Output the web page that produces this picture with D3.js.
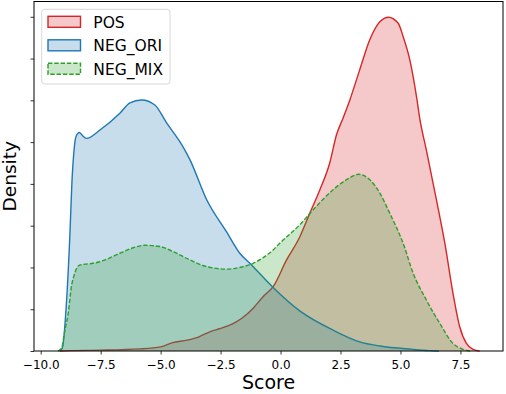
<!DOCTYPE html>
<html lang="en">
<head>
<meta charset="utf-8">
<title>Score density</title>
<script src="https://cdn.jsdelivr.net/npm/d3@7"></script>
<style>
  html, body { margin: 0; padding: 0; background: #fff; }
  svg { display: block; font-family: "DejaVu Sans", sans-serif; }
</style>
</head>
<body>
<script>
// series names, in drawing order
const seriesNames = ["POS", "NEG_ORI", "NEG_MIX"];

// KDE curves: [score, density]
const posCurve = [
  [-9.2, 0], [-8.8, 0.0001], [-7.5, 0.0002], [-5.9, 0.0005], [-5.0, 0.0010],
  [-4.5, 0.0020], [-3.9, 0.0026], [-3.4, 0.0034], [-2.95, 0.0046], [-2.5, 0.0054],
  [-2.0, 0.0065], [-1.6, 0.0079], [-1.15, 0.0102], [-0.73, 0.0130], [-0.31, 0.0154],
  [0.25, 0.0218], [0.8, 0.0273], [1.22, 0.0330], [1.64, 0.0386], [2.05, 0.0450],
  [2.33, 0.0517], [2.61, 0.0558], [2.89, 0.0601], [3.3, 0.0673], [3.72, 0.0745],
  [4.14, 0.0788], [4.5, 0.0799], [4.9, 0.0785], [5.11, 0.0753], [5.39, 0.0697],
  [5.69, 0.0601], [5.8, 0.0558], [6.08, 0.0481], [6.5, 0.0362], [6.85, 0.0258],
  [7.19, 0.0138], [7.47, 0.0058], [7.75, 0.0018], [8.03, 0.0004], [8.3, 0]
];

const negOriCurve = [
  [-9.2, 0], [-9.1, 0.0007], [-8.92, 0.0122], [-8.78, 0.0283], [-8.7, 0.0402],
  [-8.61, 0.0481], [-8.53, 0.0513], [-8.39, 0.0523], [-8.28, 0.0517], [-8.09, 0.0509],
  [-7.53, 0.0529], [-6.7, 0.0569], [-6.28, 0.0594], [-5.79, 0.0601], [-5.24, 0.0589],
  [-4.75, 0.0546], [-4.2, 0.0501], [-3.99, 0.0481], [-3.78, 0.0458], [-3.08, 0.0362],
  [-2.25, 0.0285], [-1.7, 0.0234], [-1.21, 0.0206], [-0.31, 0.0152], [0.8, 0.0096],
  [2.19, 0.0050], [3.3, 0.0022], [4.14, 0.0012], [5.51, 0.0004], [6.2, 0.0001], [6.6, 0]
];

const negMixCurve = [
  [-9.28, 0], [-9.13, 0.0007], [-8.99, 0.0050], [-8.85, 0.0091], [-8.71, 0.0158],
  [-8.64, 0.0175], [-8.5, 0.0198], [-8.36, 0.0206], [-8.11, 0.0208], [-7.81, 0.0210],
  [-7.32, 0.0218], [-6.7, 0.0234], [-6.2, 0.0246], [-5.65, 0.0253], [-5.03, 0.0250],
  [-4.48, 0.0238], [-3.78, 0.0218], [-3.08, 0.0202], [-2.25, 0.0196], [-1.7, 0.0200],
  [-1.14, 0.0210], [-0.31, 0.0242], [-0.03, 0.0258], [0.8, 0.0302], [1.36, 0.0338],
  [2.19, 0.0386], [2.75, 0.0410], [3.26, 0.0423], [3.72, 0.0410], [4.14, 0.0378],
  [4.55, 0.0330], [5.11, 0.0258], [5.53, 0.0186], [6.08, 0.0122], [6.64, 0.0066],
  [7.19, 0.0018], [7.61, 0.0004], [7.9, 0]
];

const xTicks = [-10, -7.5, -5, -2.5, 0, 2.5, 5, 7.5];
const yTicks = [0, 0.01, 0.02, 0.03, 0.04, 0.05, 0.06, 0.07, 0.08];

const curves = [posCurve, negOriCurve, negMixCurve];
const colors = ["#d62728", "#1f77b4", "#2ca02c"];
const dashes = [null, null, "4.4,1.9"];

const w = 506, h = 394;
const margin = {left: 34, right: 3, top: 1.5, bottom: 43};

const svg = d3.select("body").append("svg")
  .attr("width", w)
  .attr("height", h);

const x = d3.scaleLinear([-10.28, 9.275], [margin.left, w - margin.right]);
const y = d3.scaleLinear([0, 0.08366], [h - margin.bottom, margin.top]);

const area = d3.area()
  .x(d => x(d[0]))
  .y0(y(0))
  .y1(d => y(d[1]))
  .curve(d3.curveMonotoneX);

const line = d3.line()
  .x(d => x(d[0]))
  .y(d => y(d[1]))
  .curve(d3.curveMonotoneX);

const plot = svg.append("g");

curves.forEach((c, i) => {
  plot.append("path")
    .attr("d", area(c))
    .attr("fill", colors[i])
    .attr("fill-opacity", 0.25);
  plot.append("path")
    .attr("d", line(c))
    .attr("fill", "none")
    .attr("stroke", colors[i])
    .attr("stroke-width", 1.4)
    .attr("stroke-dasharray", dashes[i]);
});

// axes
const xAxis = svg.append("g")
  .attr("transform", `translate(0,${h - margin.bottom})`)
  .call(d3.axisBottom(x).tickValues(xTicks).tickFormat(d3.format(".1f")).tickSizeOuter(0).tickSize(3.5));
xAxis.selectAll("text").attr("font-size", 12).attr("font-family", "DejaVu Sans").attr("fill", "#000").attr("dy", "0.95em");
xAxis.selectAll("line").attr("stroke", "#000").attr("stroke-width", 0.8);
xAxis.select(".domain").remove();

const yAxis = svg.append("g")
  .attr("transform", `translate(${margin.left},0)`)
  .call(d3.axisLeft(y).tickValues(yTicks).tickFormat("").tickSizeOuter(0).tickSize(3.5));
yAxis.selectAll("line").attr("stroke", "#000").attr("stroke-width", 0.8);
yAxis.select(".domain").remove();

// frame
svg.append("rect")
  .attr("x", margin.left)
  .attr("y", margin.top)
  .attr("width", w - margin.left - margin.right)
  .attr("height", h - margin.top - margin.bottom)
  .attr("fill", "none")
  .attr("stroke", "#000")
  .attr("stroke-width", 1);

svg.append("text")
  .attr("x", (margin.left + w - margin.right) / 2)
  .attr("y", 389)
  .attr("text-anchor", "middle")
  .attr("font-size", 19)
  .text("Score");

svg.append("text")
  .attr("transform", `translate(15.5,${(margin.top + h - margin.bottom) / 2}) rotate(-90)`)
  .attr("text-anchor", "middle")
  .attr("font-size", 18.5)
  .text("Density");

// legend
const legend = svg.append("g");
legend.append("rect")
  .attr("x", 41.7).attr("y", 9.3)
  .attr("width", 128.3).attr("height", 74.7)
  .attr("rx", 3)
  .attr("fill", "#fff").attr("fill-opacity", 0.8)
  .attr("stroke", "#d8d8d8").attr("stroke-width", 1);

seriesNames.forEach((name, i) => {
  const cy = 21.8 + i * 23.5;
  legend.append("rect")
    .attr("x", 48).attr("y", cy - 5.5)
    .attr("width", 32.5).attr("height", 11)
    .attr("fill", d3.color(colors[i]).copy({opacity: 0.25}))
    .attr("stroke", colors[i])
    .attr("stroke-width", 1.4)
    .attr("stroke-dasharray", dashes[i]);
  legend.append("text")
    .attr("x", 93.3).attr("y", cy + 5.7)
    .attr("font-size", 15.5)
    .text(name);
});
</script>
</body>
</html>
